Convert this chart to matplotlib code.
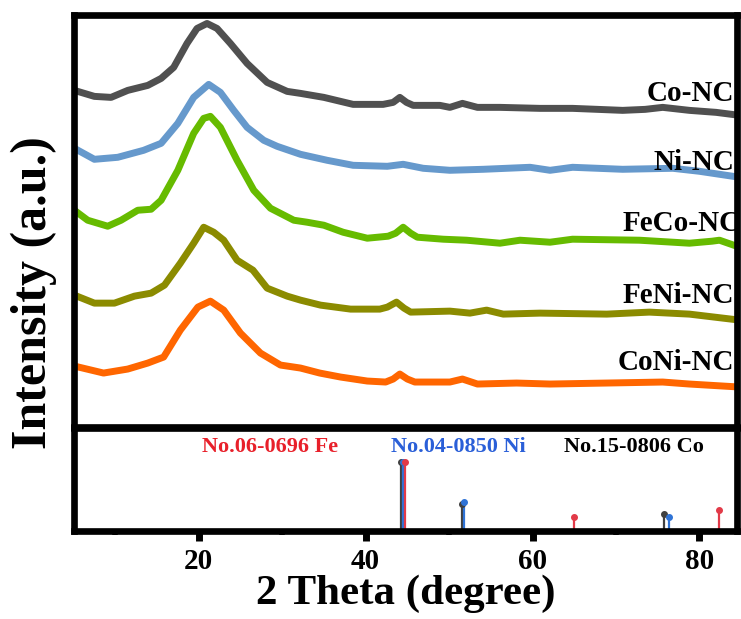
import matplotlib
matplotlib.use("Agg")
import matplotlib.pyplot as plt
from matplotlib.ticker import MultipleLocator

plt.rcParams['font.family'] = ['Liberation Serif', 'DejaVu Serif']
plt.rcParams['font.weight'] = 'bold'

# XRD patterns (stacked, a.u.)
co_x = [5.1, 7.5, 9.5, 11.5, 13.9, 15.5, 17.0, 18.6, 19.8, 21.0, 22.2, 23.8, 25.8, 28.2, 30.6, 32.2, 35.0, 38.5,
        42.1, 43.3, 44.1, 44.9, 45.7, 48.9, 50.1, 51.6, 53.4, 56.1, 60.9, 64.8, 70.8, 73.5, 75.6, 78.8, 82.0, 84.8]
co_y = [337, 331, 330, 337, 342, 349, 360, 384, 399, 404, 399, 384, 364, 345, 336, 334, 330, 323,
        323, 325, 330, 325, 322, 322, 320, 324, 320, 320, 319, 319, 317, 318, 320, 317, 315, 312]

ni_x = [5.1, 7.5, 10.3, 13.4, 15.5, 17.5, 19.4, 21.2, 22.6, 24.2, 25.8, 27.8, 29.4, 32.2, 35.4, 38.5, 42.6, 44.5,
        46.9, 50.1, 54.1, 59.7, 62.1, 64.8, 70.8, 76.8, 80.0, 84.8]
ni_y = [279, 268, 270, 277, 284, 304, 330, 343, 335, 317, 300, 287, 281, 273, 267, 262, 261, 263,
        259, 257, 258, 260, 257, 260, 258, 259, 256, 250]

feco_x = [5.1, 6.7, 9.1, 10.7, 12.7, 14.3, 15.5, 17.5, 19.4, 20.6, 21.4, 22.6, 24.6, 26.6, 28.6, 31.4, 33.0, 35.0,
          37.3, 40.2, 42.7, 43.6, 44.5, 45.4, 46.2, 49.3, 52.1, 56.1, 58.5, 62.1, 64.8, 72.8, 78.8, 81.5, 82.4, 84.8]
feco_y = [217, 207, 201, 207, 217, 218, 227, 257, 294, 309, 311, 300, 267, 237, 219, 207, 205, 202,
          195, 189, 191, 194, 200, 194, 190, 188, 187, 184, 187, 185, 188, 187, 184, 186, 187, 180]

feni_x = [5.1, 7.5, 9.9, 12.3, 14.3, 15.9, 17.8, 19.4, 20.6, 21.8, 23.0, 24.6, 26.5, 28.2, 30.6, 32.2, 34.6, 38.2,
          41.7, 42.6, 43.7, 44.6, 45.4, 50.1, 52.5, 54.5, 56.5, 60.9, 68.9, 74.0, 78.8, 84.8]
feni_y = [132, 124, 124, 131, 134, 142, 164, 184, 200, 195, 187, 167, 157, 139, 131, 127, 122, 118,
          118, 120, 125, 119, 115, 116, 114, 117, 113, 114, 113, 115, 113, 107]

coni_x = [5.1, 8.6, 11.5, 13.9, 15.8, 17.8, 19.9, 21.4, 23.0, 25.0, 27.4, 29.8, 32.2, 34.5, 37.0, 40.2, 42.4, 43.3,
          44.1, 45.0, 45.9, 50.1, 51.6, 53.4, 58.1, 62.1, 68.9, 75.6, 78.8, 84.8]
coni_y = [61, 54, 58, 64, 70, 97, 120, 126, 117, 94, 74, 62, 59, 54, 50, 46, 45, 48,
          53, 48, 45, 45, 48, 43, 44, 43, 44, 45, 43, 40]

names = ['Co-NC', 'Ni-NC', 'FeCo-NC', 'FeNi-NC', 'CoNi-NC']
colors = ['#505050', '#6699cc', '#66bb00', '#8b8b00', '#ff6600']
label_y = [334, 265, 204, 132, 65]

# standard cards (relative intensity)
co_ref_pos = [44.2, 51.5, 75.8]
co_ref_int = [100, 39, 25]
ni_ref_pos = [44.5, 51.8, 76.4]
ni_ref_int = [100, 42, 20]
fe_ref_pos = [44.7, 65.0, 82.3]
fe_ref_int = [100, 20, 30]

fig = plt.figure(figsize=(7.41, 6.19), dpi=100)
ax1 = fig.add_axes([0.0992, 0.3102, 0.8954, 0.6648])
ax2 = fig.add_axes([0.0992, 0.1422, 0.8954, 0.1664])

series = [(co_x, co_y), (ni_x, ni_y), (feco_x, feco_y), (feni_x, feni_y), (coni_x, coni_y)]
for (xs, ys), c in zip(series, colors):
    ax1.plot(xs, ys, color=c, lw=5, solid_joinstyle='round', solid_capstyle='round')

for name, ly in zip(names, label_y):
    xpos = 84.9 if name == 'FeCo-NC' else 84.2
    ax1.text(xpos, ly, name, ha='right', va='center', fontsize=21, fontweight='bold')

ax1.set_xlim(5, 84.5)
ax1.set_ylim(0, 412)
ax1.set_xticks([])
ax1.set_yticks([])

# reference stems
for pos, inten, c in [(co_ref_pos, co_ref_int, '#404040'),
                      (ni_ref_pos, ni_ref_int, '#2f73d6'),
                      (fe_ref_pos, fe_ref_int, '#e23a48')]:
    ax2.vlines(pos, 0, inten, color=c, lw=1.6)
    ax2.plot(pos, inten, 'o', color=c, ms=4, zorder=3)

ax2.text(28.6, 123, 'No.06-0696 Fe', color='#e8202a', ha='center', va='center', fontsize=16, fontweight='bold')
ax2.text(51.1, 123, 'No.04-0850 Ni', color='#2a5fd8', ha='center', va='center', fontsize=16, fontweight='bold')
ax2.text(72.1, 123, 'No.15-0806 Co', color='black', ha='center', va='center', fontsize=16, fontweight='bold')

ax2.set_xlim(5, 84.5)
ax2.set_ylim(0, 150)
ax2.set_yticks([])
ax2.xaxis.set_major_locator(MultipleLocator(20))
ax2.xaxis.set_minor_locator(MultipleLocator(10))
ax2.tick_params(axis='x', which='major', direction='out', length=7, width=5, labelsize=21, pad=5)
ax2.tick_params(axis='x', which='minor', direction='out', length=3, width=4)
for lab in ax2.get_xticklabels():
    lab.set_fontweight('bold')
ax2.set_xlabel('2 Theta (degree)', fontsize=31, fontweight='bold', labelpad=0)

for ax in (ax1, ax2):
    for sp in ax.spines.values():
        sp.set_linewidth(4.8)

fig.text(34 / 741, 1 - 293 / 619, 'Intensity (a.u.)', rotation=90, ha='center', va='center',
         fontsize=36, fontweight='bold')

fig.savefig('out.png', dpi=100)
